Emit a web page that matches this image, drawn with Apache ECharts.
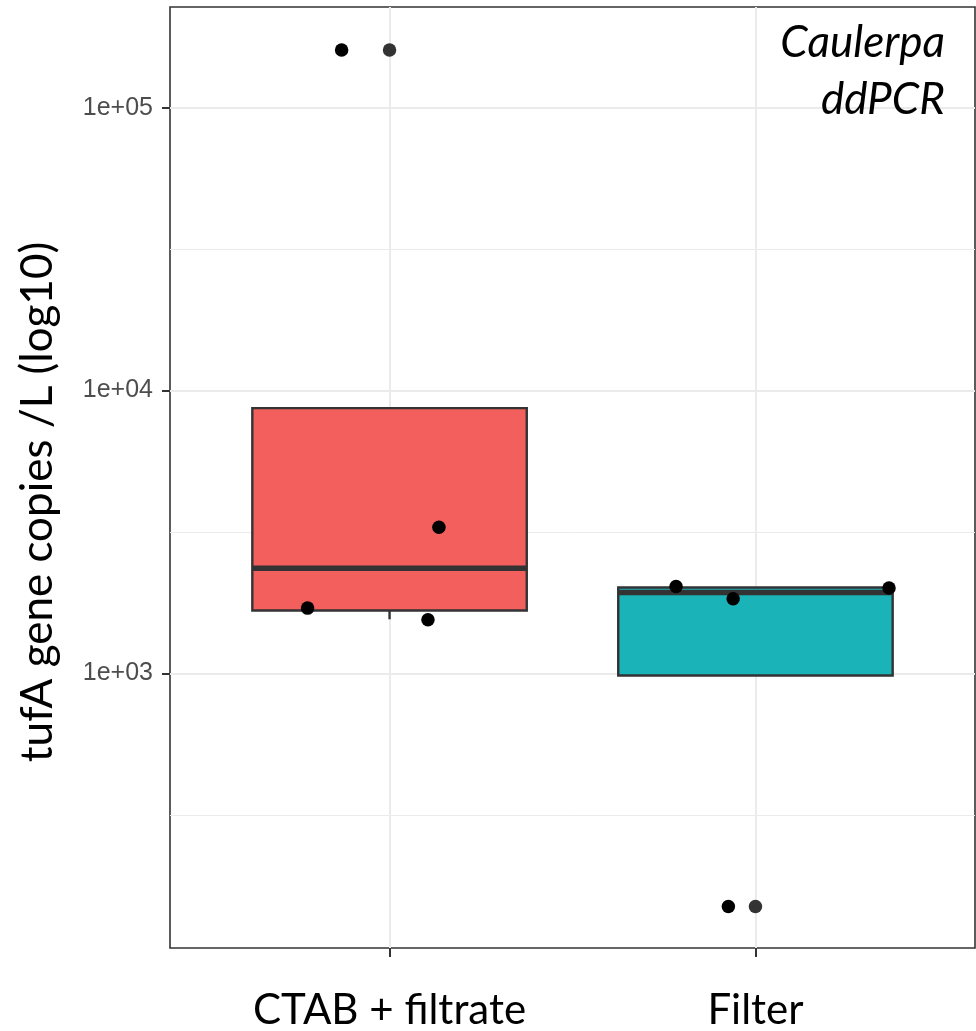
<!DOCTYPE html>
<html><head><meta charset="utf-8">
<script src="https://cdn.jsdelivr.net/npm/echarts@6/dist/echarts.min.js"></script>
<style>html,body{margin:0;padding:0;background:#fff}#c{width:976px;height:1031px}</style>
</head><body><div id="c"></div>
<script>
const categories = ['CTAB + filtrate', 'Filter'];
const boxQ1 = [1670, 984];
const boxMedian = [2355, 1932];
const boxQ3 = [8670, 2013];
const whiskerLow = [1554, 984];
const whiskerHigh = [8670, 2013];
const boxColors = ['#F25F5C', '#1AB3B7'];
// jittered sample points
const pointX = [0.869, 0.776, 1.135, 1.105, 1.783, 1.939, 2.365, 1.926];
const pointY = [160000, 1702, 3289, 1549, 2028, 1837, 2004, 150];
// boxplot outliers (drawn at category centre)
const outlierCat = [1, 2];
const outlierY = [160000, 150];
const yTickValues = [1000, 10000, 100000];
const yMinorValues = [316.23, 3162.3, 31622.8];
const yMin = 107;
const yMax = 227000;

function fmtSci(v) {
  const e = Math.round(Math.log10(v));
  const m = Math.round(v / Math.pow(10, e) * 100) / 100;
  return m + 'e+' + String(e).padStart(2, '0');
}

const chart = echarts.init(document.getElementById('c'), null, {renderer: 'canvas'});
const axisColor = '#333333';
const gridMarks = [];
[1, 2].forEach(v => gridMarks.push({xAxis: v, lineStyle: {color: '#EBEBEB', width: 2, type: 'solid'}}));
yTickValues.forEach(v => gridMarks.push({yAxis: v, lineStyle: {color: '#EBEBEB', width: 2, type: 'solid'}}));
yMinorValues.forEach(v => gridMarks.push({yAxis: v, lineStyle: {color: '#EBEBEB', width: 1, type: 'solid'}}));

const option = {
  animation: false,
  backgroundColor: '#ffffff',
  grid: {left: 170, top: 7, width: 805, height: 942, show: true, borderColor: axisColor, borderWidth: 1.6, backgroundColor: 'transparent'},
  xAxis: {
    type: 'value', min: 0.4, max: 2.6,
    splitLine: {show: false}, axisLine: {show: false},
    axisTick: {show: true, customValues: [1, 2], length: 9, lineStyle: {color: axisColor, width: 2}},
    axisLabel: {customValues: [1, 2], formatter: v => categories[Math.round(v) - 1], fontFamily: 'Lato', fontSize: 42, color: '#000', margin: 41}
  },
  yAxis: {
    type: 'log', logBase: 10, min: yMin, max: yMax,
    splitLine: {show: false}, minorSplitLine: {show: false}, axisLine: {show: false},
    axisTick: {show: true, customValues: yTickValues, length: 8, lineStyle: {color: axisColor, width: 2}},
    axisLabel: {customValues: yTickValues, formatter: v => fmtSci(v), fontFamily: 'Liberation Sans', fontSize: 25, color: '#4D4D4D', margin: 17}
  },
  graphic: [
    {type: 'text', z: 100, x: 38, y: 502, rotation: Math.PI / 2, style: {text: 'tufA gene copies /L (log10)', font: '44px Lato', fill: '#000', textAlign: 'center', textVerticalAlign: 'middle'}},
    {type: 'text', z: 100, x: 945, y: 43, style: {text: 'Caulerpa', font: 'italic 44px Lato', fill: '#000', textAlign: 'right', textVerticalAlign: 'middle'}},
    {type: 'text', z: 100, x: 945, y: 100, style: {text: 'ddPCR', font: 'italic 44px Lato', fill: '#000', textAlign: 'right', textVerticalAlign: 'middle'}}
  ],
  series: [
    {
      type: 'line', data: [], z: 1, silent: true,
      markLine: {z: 1, silent: true, symbol: ['none', 'none'], label: {show: false}, animation: false, data: gridMarks}
    },
    {
      type: 'custom', z: 10,
      data: categories.map((c, i) => [i + 1, whiskerLow[i], boxQ1[i], boxMedian[i], boxQ3[i], whiskerHigh[i]]),
      encode: {x: 0, y: [1, 2, 3, 4, 5]},
      renderItem: function (params, api) {
        const i = params.dataIndex;
        const x = api.value(0);
        const left = api.coord([x - 0.375, api.value(3)])[0];
        const right = api.coord([x + 0.375, api.value(3)])[0];
        const cx = api.coord([x, api.value(3)])[0];
        const yLow = api.coord([x, api.value(1)])[1];
        const yQ1 = api.coord([x, api.value(2)])[1];
        const yMed = api.coord([x, api.value(3)])[1];
        const yQ3 = api.coord([x, api.value(4)])[1];
        const yHigh = api.coord([x, api.value(5)])[1];
        const stroke = {stroke: axisColor, lineWidth: 2.4};
        return {
          type: 'group',
          children: [
            {type: 'line', shape: {x1: cx, y1: yQ1, x2: cx, y2: yLow}, style: stroke},
            {type: 'line', shape: {x1: cx, y1: yQ3, x2: cx, y2: yHigh}, style: stroke},
            {type: 'rect', shape: {x: left, y: yQ3, width: right - left, height: yQ1 - yQ3}, style: {fill: boxColors[i], stroke: axisColor, lineWidth: 2.4}},
            {type: 'line', shape: {x1: left, y1: yMed, x2: right, y2: yMed}, style: {stroke: axisColor, lineWidth: 5.5}}
          ]
        };
      }
    },
    {
      type: 'scatter', z: 11,
      data: outlierCat.map((x, i) => [x, outlierY[i]]),
      symbol: 'circle', symbolSize: 13.5,
      itemStyle: {color: '#333333', opacity: 1}
    },
    {
      type: 'scatter', z: 12,
      data: pointX.map((x, i) => [x, pointY[i]]),
      symbol: 'circle', symbolSize: 13.5,
      itemStyle: {color: '#000000', opacity: 1}
    }
  ]
};
chart.setOption(option);
</script>
</body></html>
